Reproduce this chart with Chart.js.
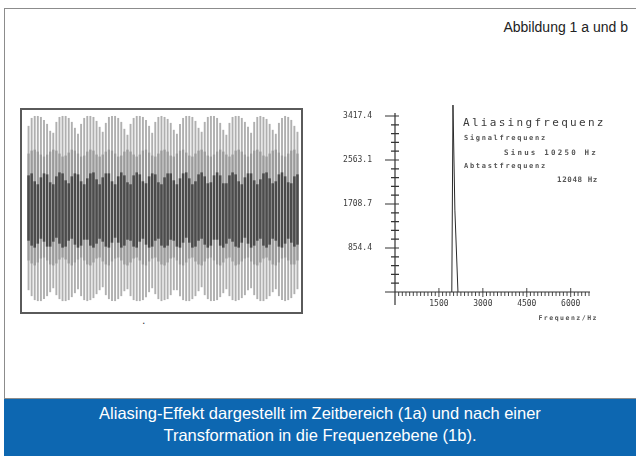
<!DOCTYPE html>
<html>
<head>
<meta charset="utf-8">
<script src="https://cdn.jsdelivr.net/npm/chart.js@4.4.1/dist/chart.umd.min.js"></script>
<style>
    html, body { margin: 0; padding: 0; background: #fff; }
    body { width: 636px; height: 456px; position: relative; overflow: hidden; font-family: "Liberation Sans Narrow", "Liberation Sans", sans-serif; }
    .rahmen { position: absolute; left: 4px; top: 8px; width: 660px; height: 389px; border: 1px solid #8c8c8c; }
    .kopf { position: absolute; right: 8px; top: 19px; font-size: 14px; color: #222; }
    .box { position: absolute; left: 20px; top: 108px; width: 279px; height: 202px; border: 2px solid #5a5a5a; }
    .box canvas { position: absolute; left: 0; top: 0; }
    #spektrum { position: absolute; left: 330px; top: 95px; }
    .plot { position: absolute; font-family: "DejaVu Sans Mono", monospace; color: #3a3a3a; white-space: pre; }
    .klein { font-weight: bold; color: #555; }
    .band { position: absolute; left: 4px; top: 399px; width: 632px; height: 57px; background: #0d67b1; color: #fff; text-align: center; font-size: 16.5px; line-height: 22px; padding-top: 3px; box-sizing: border-box; }
</style>
</head>
<body>
<div class="rahmen"></div>
<div class="kopf">Abbildung 1 a und b</div>

<div class="box"><canvas id="zeit" width="279" height="202"></canvas></div>
<div class="plot" style="left:141px; top:316px; font-size:9px;">.</div>

<canvas id="spektrum" width="280" height="225"></canvas>
<div class="plot" style="left:463px; top:116px; font-size:11px; letter-spacing:2.3px;">Aliasingfrequenz</div>
<div class="plot klein" style="left:464px; top:134px; font-size:7px; letter-spacing:1.7px;">Signalfrequenz</div>
<div class="plot klein" style="right:38px; top:148px; font-size:7.5px; letter-spacing:2.2px;">Sinus 10250 Hz</div>
<div class="plot klein" style="left:464px; top:162px; font-size:7px; letter-spacing:1.7px;">Abtastfrequenz</div>
<div class="plot klein" style="right:38px; top:175px; font-size:7.5px; letter-spacing:0.6px;">12048 Hz</div>
<div class="plot klein" style="right:38px; top:314px; font-size:6.5px; letter-spacing:1.5px;">Frequenz/Hz</div>

<div class="band">Aliasing-Effekt dargestellt im Zeitbereich (1a) und nach einer<br>Transformation in die Frequenzebene (1b).</div>

<script>
// Abbildung 1a: abgetastetes Signal im Zeitbereich (je Strich: unteres / oberes Ende)
const strichOben = [
    86, 94, 96, 96, 95, 92, 88, 81,
    79, 90, 95, 96, 96, 94, 90, 84,
    78, 88, 94, 96, 96, 95, 91, 85,
    80, 89, 95, 96, 96, 94, 90, 83,
    77, 88, 94, 96, 96, 95, 92, 86,
    79, 90, 95, 96, 95, 93, 89, 82,
    78, 88, 94, 96, 96, 95, 91, 84,
    80, 90, 95, 96, 96, 94, 89, 82,
    77, 89, 95, 96, 96, 94, 90, 85,
    79, 90, 95, 96, 95, 93, 88, 82,
    78, 89, 94, 96, 95, 92, 86, 80
];
const strichUnten = [
    -80, -86, -90, -91, -91, -89, -86, -82,
    -78, -85, -89, -91, -91, -90, -87, -83,
    -79, -86, -90, -91, -90, -88, -84, -80,
    -77, -85, -89, -91, -91, -89, -86, -81,
    -79, -86, -90, -91, -91, -90, -87, -82,
    -78, -84, -89, -91, -90, -89, -85, -80,
    -80, -86, -90, -91, -91, -89, -86, -81,
    -77, -85, -89, -91, -91, -90, -87, -83,
    -79, -86, -90, -91, -90, -88, -85, -80,
    -78, -85, -89, -91, -91, -89, -86, -82,
    -79, -86, -90, -91, -90, -88, -84, -79
];
// mittelgraue Zone
const mitteOben = [
    58, 61, 62, 60, 57, 55, 57, 60,
    62, 61, 58, 55, 56, 59, 62, 61,
    58, 55, 56, 60, 62, 61, 57, 55,
    57, 60, 62, 61, 58, 55, 56, 60,
    62, 60, 57, 55, 57, 61, 62, 59,
    56, 55, 58, 61, 62, 60, 56, 55,
    58, 61, 62, 59, 56, 55, 58, 61,
    62, 60, 56, 55, 57, 60, 62, 60,
    57, 55, 57, 61, 62, 60, 57, 55,
    58, 61, 62, 60, 56, 55, 58, 61,
    62, 59, 56, 55, 58, 61, 62, 58
];
const mitteUnten = [
    -50, -53, -55, -52, -48, -47, -50, -54,
    -55, -53, -49, -47, -49, -53, -55, -52,
    -49, -47, -50, -54, -55, -52, -48, -47,
    -51, -54, -55, -51, -48, -47, -50, -54,
    -55, -52, -48, -47, -50, -54, -55, -51,
    -48, -47, -51, -54, -55, -52, -48, -47,
    -50, -54, -55, -52, -48, -47, -51, -54,
    -55, -51, -48, -47, -50, -54, -55, -52,
    -48, -47, -51, -55, -54, -51, -48, -47,
    -51, -54, -55, -52, -48, -47, -50, -54,
    -55, -52, -48, -47, -50, -54, -54, -50
];
// dunkles Band in der Mitte
const bandOben = [
    36, 38, 30, 27, 34, 38, 37, 29,
    27, 35, 39, 38, 31, 28, 35, 38,
    37, 30, 27, 33, 38, 39, 32, 27,
    34, 38, 38, 30, 27, 35, 39, 36,
    29, 27, 36, 39, 37, 30, 28, 35,
    38, 37, 29, 27, 34, 38, 38, 31,
    27, 33, 38, 39, 33, 27, 30, 37,
    39, 35, 28, 29, 36, 39, 36, 28,
    28, 36, 39, 37, 30, 27, 34, 38,
    38, 31, 27, 32, 38, 39, 33, 28,
    30, 37, 39, 35, 29, 28, 35, 37
];
const bandUnten = [
    -30, -35, -37, -33, -28, -31, -36, -36,
    -31, -27, -33, -37, -36, -30, -28, -34,
    -37, -35, -29, -29, -35, -37, -33, -28,
    -31, -36, -37, -32, -27, -32, -37, -35,
    -29, -30, -36, -37, -31, -28, -34, -37,
    -36, -30, -28, -35, -37, -35, -29, -30,
    -36, -37, -32, -27, -32, -37, -36, -30,
    -28, -34, -37, -35, -29, -29, -35, -37,
    -33, -28, -31, -36, -37, -32, -27, -33,
    -37, -35, -30, -28, -35, -37, -34, -28,
    -30, -36, -37, -33, -28, -32, -36, -34
];

// Abbildung 1b: Spektrum
const frequenzHz = [1940, 1980, 2045, 2150];
const amplitude = [0, 3630, 1590, 0];
const yTickLabels = ['', '854.4', '1708.7', '2563.1', '3417.4'];
const xTickLabels = ['', '1500', '3000', '4500', '6000'];
const yStep = 170.87;     // 5 Teilstriche je Beschriftung
const yMajor = 854.35;
const xStep = 125;
const xMajor = 1500;

const paar = (unten, oben) => oben.map((v, i) => [unten[i], v]);

new Chart(document.getElementById('zeit'), {
    type: 'bar',
    data: {
        labels: strichOben.map((_, i) => i + 1),
        datasets: [
            { data: paar(bandUnten, bandOben), backgroundColor: '#4b4b4b', grouped: false, order: 1,
              barPercentage: 1, categoryPercentage: 0.82 },
            { data: paar(mitteUnten, mitteOben), backgroundColor: '#9a9a9a', grouped: false, order: 2,
              barPercentage: 0.72, categoryPercentage: 1 },
            { data: paar(strichUnten, strichOben), backgroundColor: '#b0b0b0', grouped: false, order: 3,
              barPercentage: 0.62, categoryPercentage: 1 }
        ]
    },
    options: {
        responsive: false,
        animation: false,
        layout: { padding: { left: 5, right: 2, top: 2, bottom: 2 } },
        plugins: { legend: { display: false }, tooltip: { enabled: false } },
        scales: {
            x: { display: false },
            y: { display: false, min: -100, max: 100 }
        }
    }
});

const achsen = {
    id: 'achsen',
    afterDatasetsDraw(chart) {
        const { ctx, chartArea } = chart;
        const xs = chart.scales.x, ys = chart.scales.y;
        const x0 = xs.getPixelForValue(0), y0 = ys.getPixelForValue(0);
        ctx.save();
        ctx.strokeStyle = '#333';
        ctx.lineWidth = 1.2;
        ctx.beginPath();
        ctx.moveTo(x0, chartArea.top - 3);
        ctx.lineTo(x0, y0 + 13);
        ctx.moveTo(x0 - 10, y0);
        ctx.lineTo(chartArea.right + 1, y0);
        ys.ticks.forEach((t, i) => {
            if (t.value <= 0) return;
            const p = ys.getPixelForValue(t.value);
            const gross = i % 5 === 0;
            ctx.moveTo(x0 - (gross ? 10 : 4), p);
            ctx.lineTo(x0 + 4, p);
        });
        ctx.stroke();
        ctx.lineWidth = 0.9;
        ctx.beginPath();
        xs.ticks.forEach((t, i) => {
            if (t.value <= 0) return;
            const p = xs.getPixelForValue(t.value);
            const gross = i % 12 === 0;
            ctx.moveTo(p, y0 - (gross ? 4 : 0));
            ctx.lineTo(p, y0 + (gross ? 5 : 4));
        });
        ctx.stroke();
        ctx.restore();
    }
};

const unsichtbar = 'rgba(0,0,0,0)';

new Chart(document.getElementById('spektrum'), {
    type: 'line',
    data: {
        datasets: [{
            data: frequenzHz.map((f, i) => ({ x: f, y: amplitude[i] })),
            borderColor: '#2a2a2a',
            borderWidth: 1,
            pointRadius: 0,
            tension: 0,
            clip: false
        }]
    },
    options: {
        responsive: false,
        animation: false,
        layout: { padding: { left: 0, right: 21, top: 21, bottom: 0 } },
        plugins: { legend: { display: false }, tooltip: { enabled: false } },
        scales: {
            x: {
                type: 'linear', min: 0, max: 6625,
                grid: { display: true, drawOnChartArea: false, tickLength: 6, color: unsichtbar },
                border: { display: false },
                afterFit: s => { s.height = 28; },
                ticks: {
                    stepSize: xStep, autoSkip: false, maxRotation: 0, includeBounds: false,
                    padding: 1, color: '#3a3a3a',
                    font: { family: 'DejaVu Sans Mono', size: 8 },
                    callback: v => (v % xMajor === 0 ? xTickLabels[v / xMajor] : '')
                }
            },
            y: {
                min: 0, max: 3417.4,
                grid: { display: true, drawOnChartArea: false, tickLength: 19, color: unsichtbar },
                border: { display: false },
                afterFit: s => { s.width = 65; },
                ticks: {
                    stepSize: yStep, autoSkip: false, includeBounds: false,
                    padding: 4, color: '#3a3a3a',
                    font: { family: 'DejaVu Sans Mono', size: 8 },
                    callback: (v, i) => (i % 5 === 0 ? yTickLabels[Math.round(v / yMajor)] : '')
                }
            }
        }
    },
    plugins: [achsen]
});
</script>
</body>
</html>
